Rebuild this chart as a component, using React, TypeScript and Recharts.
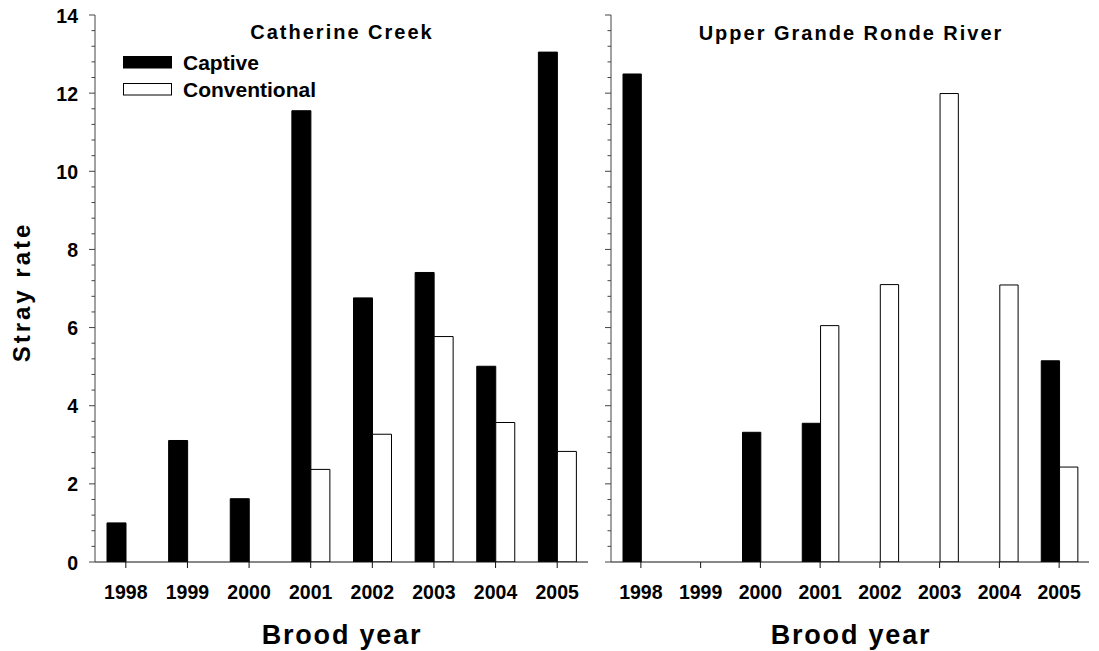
import React from 'react';
import { BarChart, Bar, XAxis, YAxis, Legend } from 'recharts';

// brood years (x categories)
const years = ['1998', '1999', '2000', '2001', '2002', '2003', '2004', '2005'];

// Catherine Creek stray rates
const ccCaptive = [1.0, 3.11, 1.62, 11.55, 6.76, 7.41, 5.01, 13.05];
const ccConventional = [0, 0, 0, 2.37, 3.27, 5.77, 3.57, 2.83];

// Upper Grande Ronde River stray rates
const ugrCaptive = [12.49, 0, 3.32, 3.55, 0, 0, 0, 5.15];
const ugrConventional = [0, 0, 0, 6.05, 7.1, 11.99, 7.09, 2.43];

const majorTicks = [0, 2, 4, 6, 8, 10, 12, 14];
const minorTicks = Array.from({ length: 36 }, (_, i) => Math.round(i * 4) / 10);

const FONT = '"Liberation Sans", Arial, sans-serif';

const ccData = years.map((y, i) => ({ year: y, captive: ccCaptive[i], conventional: ccConventional[i] }));
const ugrData = years.map((y, i) => ({ year: y, captive: ugrCaptive[i], conventional: ugrConventional[i] }));

const isMajor = (v: number) => majorTicks.some((m) => Math.abs(m - v) < 1e-6);

const makeYTick = (showLabel: boolean) => (props: any) => {
  const { x, y, payload } = props;
  const major = isMajor(payload.value);
  return (
    <g>
      <line x1={x - (major ? 6 : 3.5)} x2={x} y1={y} y2={y} stroke="#444" strokeWidth={1} />
      {major && showLabel && (
        <text x={x - 17} y={y + 7.5} textAnchor="end" fontFamily={FONT} fontWeight="bold" fontSize={19.5} fill="#000">
          {payload.value}
        </text>
      )}
    </g>
  );
};

const XTick = (props: any) => {
  const { x, y, payload } = props;
  return (
    <g>
      <line x1={x} x2={x} y1={y} y2={y + 6} stroke="#111" strokeWidth={1} />
      <text x={x} y={y + 36.5} textAnchor="middle" fontFamily={FONT} fontWeight="bold" fontSize={19.5} fill="#000">
        {payload.value}
      </text>
    </g>
  );
};

const LegendBox = (props: any) => {
  const items = props.payload || [];
  return (
    <svg width={240} height={56} style={{ overflow: 'visible' }}>
      {items.map((it: any, i: number) => (
        <g key={it.value}>
          <rect
            x={0.5}
            y={4.5 + i * 27}
            width={48}
            height={11.5}
            fill={it.value === 'Captive' ? '#000' : '#fff'}
            stroke="#000"
            strokeWidth={1}
          />
          <text x={60} y={18 + i * 27} fontFamily={FONT} fontWeight="bold" fontSize={21} fill="#000">
            {it.value}
          </text>
        </g>
      ))}
    </svg>
  );
};

const Panel = ({ data, width, marginLeft, yWidth, showYLabels, barSize, legend }: any) => (
  <BarChart
    width={width}
    height={651}
    data={data}
    margin={{ top: 15, right: 10, bottom: 59, left: marginLeft }}
    barGap={0}
    barSize={barSize}
  >
    <XAxis
      dataKey="year"
      interval={0}
      height={30}
      tickSize={0}
      tickMargin={0}
      tickLine={false}
      tick={XTick}
      axisLine={{ stroke: '#111', strokeWidth: 1 }}
    />
    <YAxis
      type="number"
      domain={[0, 14]}
      ticks={minorTicks}
      interval={0}
      width={yWidth}
      tickSize={0}
      tickMargin={0}
      tickLine={false}
      tick={makeYTick(showYLabels)}
      axisLine={{ stroke: '#444', strokeWidth: 1 }}
      allowDataOverflow
    />
    {legend && (
      <Legend
        layout="vertical"
        align="center"
        verticalAlign="middle"
        content={LegendBox}
        wrapperStyle={{ left: 123, top: 52, width: 240, height: 56 }}
      />
    )}
    <Bar dataKey="captive" name="Captive" fill="#000" stroke="#000" strokeWidth={1} isAnimationActive={false} />
    <Bar dataKey="conventional" name="Conventional" fill="#fff" stroke="#000" strokeWidth={1} isAnimationActive={false} />
  </BarChart>
);

export default function App() {
  return (
    <div style={{ position: 'absolute', left: 0, top: 0, width: 1099, height: 651, background: '#fff', fontFamily: FONT }}>
      <div style={{ position: 'absolute', left: 0, top: 0 }}>
        <Panel data={ccData} width={598} marginLeft={35} yWidth={60} showYLabels barSize={19} legend />
      </div>
      <div style={{ position: 'absolute', left: 600, top: 0 }}>
        <Panel data={ugrData} width={499} marginLeft={1} yWidth={10} showYLabels={false} barSize={18.3} legend={false} />
      </div>
      <svg width={1099} height={651} style={{ position: 'absolute', left: 0, top: 0, pointerEvents: 'none' }}>
        <g fontFamily={FONT} fontWeight="bold" fill="#000">
          <text x={342} y={39} textAnchor="middle" fontSize={20} letterSpacing={2}>Catherine Creek</text>
          <text x={851} y={40} textAnchor="middle" fontSize={20} letterSpacing={2}>Upper Grande Ronde River</text>
          <text x={342} y={644} textAnchor="middle" fontSize={27} letterSpacing={1.8}>Brood year</text>
          <text x={851} y={644} textAnchor="middle" fontSize={27} letterSpacing={1.8}>Brood year</text>
          <text x={30} y={292} textAnchor="middle" fontSize={24} letterSpacing={3} transform="rotate(-90 30 292)">Stray rate</text>
        </g>
      </svg>
    </div>
  );
}
